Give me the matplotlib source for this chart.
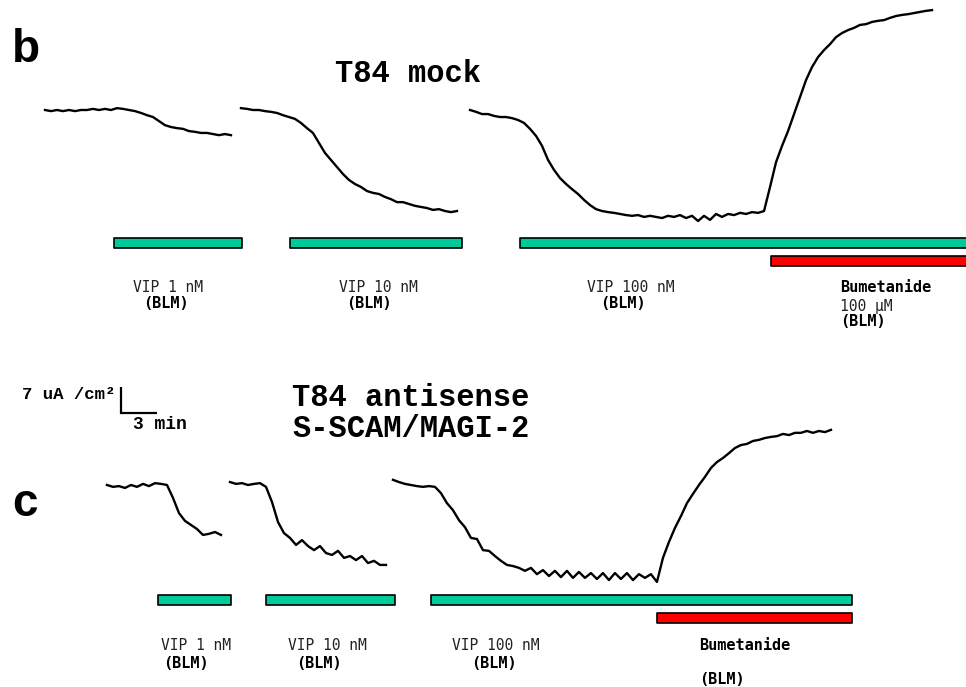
import numpy as np
import matplotlib.pyplot as plt
from matplotlib.transforms import blended_transform_factory

# Isc traces sampled every 0.5 min, uA/cm^2 relative to the start of the first trace in each panel
DT = 0.5

# T84 mock
mock_starts = [0.0, 16.33, 35.42]
mock_vip1 = [0, -0.3, 0, -0.3, 0, -0.3, 0, 0, 0.3, 0,
             0.3, 0, 0.5, 0.3, 0, -0.3, -0.8, -1.4, -1.9, -3.0,
             -4.1, -4.6, -4.9, -5.1, -5.7, -5.9, -6.2, -6.2, -6.5, -6.8,
             -6.5, -6.8]
mock_vip10 = [0.5, 0.3, 0, 0, -0.3, -0.5, -0.8, -1.4, -1.9, -2.4,
              -3.5, -4.9, -6.2, -8.9, -11.6, -13.5, -15.4, -17.3, -18.9, -20.0,
              -20.8, -21.9, -22.4, -22.7, -23.5, -24.1, -24.9, -24.9, -25.4, -25.9,
              -26.2, -26.5, -27.0, -26.8, -27.3, -27.6, -27.3]
mock_vip100 = [0, -0.5, -1.1, -1.1, -1.6, -1.9, -1.9, -2.2, -2.7, -3.5,
               -5.1, -7.0, -9.7, -13.5, -16.2, -18.4, -20.0, -21.4, -22.7, -24.3,
               -25.7, -26.8, -27.3, -27.6, -27.8, -28.1, -28.4, -28.6, -28.4, -28.9,
               -28.6, -28.9, -29.2, -28.6, -28.9, -28.4, -29.2, -28.6, -30.0, -28.6,
               -29.7, -28.1, -28.9, -28.1, -28.4, -27.8, -28.1, -27.6, -27.8, -27.3,
               -20.8, -14.1, -9.7, -5.7, -1.1, 3.5, 8.1, 11.6, 14.3, 16.2,
               17.8, 19.7, 20.8, 21.6, 22.2, 23.0, 23.2, 23.8, 24.1, 24.3,
               24.9, 25.4, 25.7, 25.9, 26.2, 26.5, 26.8, 27.0]

# T84 antisense S-SCAM/MAGI-2
anti_starts = [0.0, 10.25, 23.83]
anti_vip1 = [0, -0.5, -0.3, -0.8, 0, -0.5, 0.3, -0.3, 0.5, 0.3,
             0, -3.5, -7.6, -9.7, -10.8, -11.9, -13.5, -13.2, -12.7, -13.5]
anti_vip10 = [0.8, 0.3, 0.5, 0, 0.3, 0.5, -0.5, -4.6, -10.0, -13.0,
              -14.3, -16.2, -14.9, -16.5, -17.6, -16.5, -18.4, -18.9, -17.8, -19.7,
              -19.2, -20.3, -19.2, -21.1, -20.5, -21.6, -21.6]
anti_vip100 = [1.4, 0.8, 0.3, 0, -0.3, -0.5, -0.3, -0.5, -2.2, -4.9,
               -6.8, -9.5, -11.4, -14.3, -14.6, -17.6, -17.8, -19.2, -20.5, -21.6,
               -21.9, -22.4, -23.2, -22.4, -24.1, -23.0, -24.6, -23.2, -24.9, -23.2,
               -25.1, -23.5, -25.1, -23.8, -25.4, -23.8, -25.7, -23.8, -25.4, -23.8,
               -25.7, -24.1, -25.1, -24.1, -26.2, -19.7, -15.4, -11.6, -8.4, -4.9,
               -2.4, 0, 2.2, 4.6, 6.2, 7.3, 8.6, 10.0, 10.8, 11.1,
               11.9, 12.2, 12.7, 13.0, 13.2, 13.8, 13.5, 14.1, 14.1, 14.6,
               14.1, 14.6, 14.3, 14.9]

# drug application periods (min)
mock_vip_periods = [(5.75, 16.4), (20.4, 34.75), (39.6, 78.0)]
mock_bumetanide = (60.5, 78.0)
anti_vip_periods = [(4.25, 10.3), (13.25, 24.0), (27.0, 62.1)]
anti_bumetanide = (45.8, 62.1)

vip_labels = ['VIP 1 nM', 'VIP 10 nM', 'VIP 100 nM']

W, H = 966, 687
PX_PER_MIN = 12.0
PX_PER_UA = 3.7
GREEN = '#00C99A'
RED = '#FF0000'

fig = plt.figure(figsize=(W / 100, H / 100), dpi=100)
base = fig.add_axes([0, 0, 1, 1])
base.set_xlim(0, W)
base.set_ylim(H, 0)
base.axis('off')


def panel_axes(x0, y0):
    # axes in minutes / uA cm^-2, placed so that (0, 0) sits at pixel (x0, y0)
    ax = fig.add_axes([0, 0, 1, 1])
    ax.set_xlim(-x0 / PX_PER_MIN, (W - x0) / PX_PER_MIN)
    ax.set_ylim((y0 - H) / PX_PER_UA, y0 / PX_PER_UA)
    ax.axis('off')
    ax.patch.set_visible(False)
    return ax


def draw_panel(ax, starts, traces, vip_periods, bume, vip_y, bume_y):
    for start, vals in zip(starts, traces):
        t = start + DT * np.arange(len(vals))
        ax.plot(t, vals, color='black', lw=1.7)
    tr = blended_transform_factory(ax.transData, base.transData)
    ax.broken_barh([(a, b - a) for a, b in vip_periods], (vip_y, 10),
                   facecolors=GREEN, edgecolors='black', linewidth=1.2,
                   transform=tr, clip_on=False)
    ax.broken_barh([(bume[0], bume[1] - bume[0])], (bume_y, 10),
                   facecolors=RED, edgecolors='black', linewidth=1.2,
                   transform=tr, clip_on=False)


ax_b = panel_axes(45, 110)
draw_panel(ax_b, mock_starts, [mock_vip1, mock_vip10, mock_vip100],
           mock_vip_periods, mock_bumetanide, 238, 256)

ax_c = panel_axes(107, 485)
draw_panel(ax_c, anti_starts, [anti_vip1, anti_vip10, anti_vip100],
           anti_vip_periods, anti_bumetanide, 595, 613)

# scale bar: 7 uA/cm^2 by 3 min
sb_t, sb_i = 1.17, 19.5
ax_c.plot([sb_t, sb_t, sb_t + 3], [sb_i + 7, sb_i, sb_i], color='black',
          lw=1.6, solid_joinstyle='miter', solid_capstyle='butt')

# panel letters and titles
base.text(12, 62, 'b', fontsize=33, fontweight='bold', family='Liberation Sans')
base.text(12, 516, 'c', fontsize=33, fontweight='bold', family='Liberation Sans')
title_kw = dict(fontsize=22, fontweight='bold', family='Liberation Mono')
base.text(335, 82, 'T84 mock', **title_kw)
base.text(292, 406, 'T84 antisense', **title_kw)
base.text(292, 437, 'S-SCAM/MAGI-2', **title_kw)
base.text(22, 399, '7 uA /cm²', fontsize=12.5, fontweight='bold', family='Liberation Mono')
base.text(133, 429, '3 min', fontsize=13, fontweight='bold', family='Liberation Mono')

# treatment labels
vip_kw = dict(fontsize=10.5, family='DejaVu Sans Mono', color='#222222', va='center')
blm_kw = dict(fontsize=11, fontweight='bold', family='DejaVu Sans Mono', va='center')

for (x, xb), lab in zip([(133, 143), (339, 346), (587, 600)], vip_labels):
    base.text(x, 287, lab, **vip_kw)
    base.text(xb, 304, '(BLM)', **blm_kw)
base.text(840, 287, 'Bumetanide', **blm_kw)
base.text(840, 306, '100 µM', **vip_kw)
base.text(840, 321, '(BLM)', **blm_kw)

for (x, xb), lab in zip([(161, 163), (288, 296), (452, 471)], vip_labels):
    base.text(x, 645, lab, **vip_kw)
    base.text(xb, 663, '(BLM)', **blm_kw)
base.text(699, 645, 'Bumetanide', **blm_kw)
base.text(699, 680, '(BLM)', **blm_kw)

fig.savefig('out.png', dpi=100)
